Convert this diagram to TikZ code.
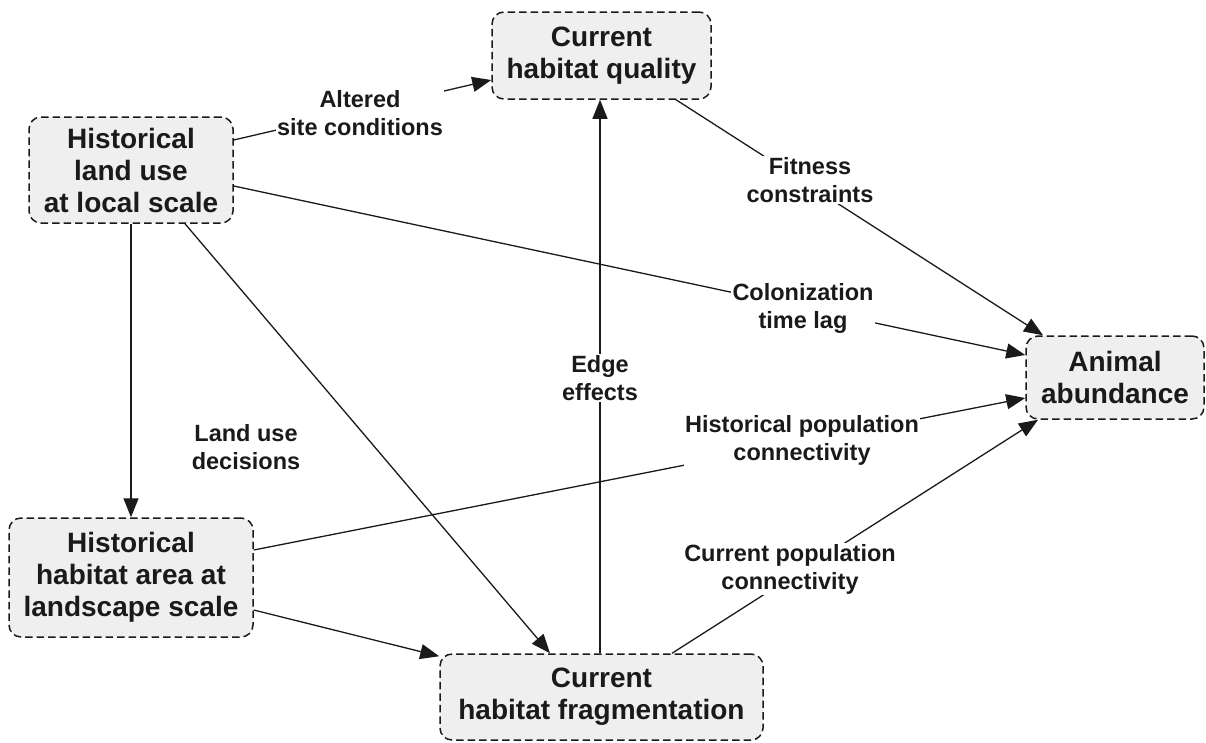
\documentclass[tikz,border=0pt]{standalone}
\usepackage{fontspec}
\setmainfont{Liberation Sans}
\usetikzlibrary{arrows.meta}
\definecolor{boxgray}{HTML}{EEEFEE}
\definecolor{ink}{HTML}{1A1A1A}
\begin{document}
\begin{tikzpicture}[x=1pt,y=-1pt,
  box/.style={draw=ink, line width=1.5pt, dash pattern=on 7.5pt off 4pt, rounded corners=12pt, fill=boxgray, align=center, text=ink, font=\fontsize{28}{32}\selectfont\bfseries, inner sep=0pt},
  lbl/.style={fill=white, align=center, text=ink, font=\fontsize{23.5}{28}\selectfont\bfseries, inner sep=1.5pt},
  conn/.style={draw=ink, line width=1.3pt, -{Triangle[length=19pt,width=15pt]}}]
\useasboundingbox (0,0) rectangle (1206,742);
% boxes
\node[box, minimum width=219pt, minimum height=87pt] (hq) at (601.5,55.5) {Current\\habitat quality};
\node[box, minimum width=204pt, minimum height=106pt] (hl) at (131,170) {Historical\\land use\\at local scale};
\node[box, minimum width=178pt, minimum height=83pt] (aa) at (1115,377.5) {Animal\\abundance};
\node[box, minimum width=244pt, minimum height=119pt] (ha) at (131,577.5) {Historical\\habitat area at\\landscape scale};
\node[box, minimum width=323pt, minimum height=86pt] (cf) at (601.5,697) {Current\\habitat fragmentation};
% connectors
\draw[conn] ([yshift=30pt]hl.east) -- ([yshift=-24.5pt]hq.west);
\draw[conn] ([yshift=-16pt]hl.east) -- ([yshift=22.5pt]aa.west);
\draw[conn] (hl.south) -- (ha.north);
\draw[conn] ([xshift=54pt]hl.south) -- ([xshift=-51.5pt]cf.north);
\draw[conn] ([yshift=-32.5pt]ha.east) -- ([yshift=-3pt]cf.north west);
\draw[conn] ([yshift=27.5pt]ha.east) -- ([yshift=-20.5pt]aa.west);
\draw[conn] ([xshift=-1.5pt]cf.north) -- ([xshift=-1.5pt]hq.south);
\draw[conn] ([xshift=70.5pt]cf.north) -- ([xshift=-77pt]aa.south);
\draw[conn] ([xshift=74.5pt]hq.south) -- ([xshift=-72pt]aa.north);
% labels
\node[lbl] (l1) at (360,113) {Altered\\site conditions};
\node[lbl] (l2) at (810,180) {Fitness\\constraints};
\node[lbl] (l3) at (803,308) {Colonization\\time lag};
\node[lbl] (l4) at (600,378) {Edge\\effects};
\node[lbl] (l5) at (246,447) {Land use\\decisions};
\node[lbl] (l6) at (802,440) {Historical population\\connectivity};
\node[lbl] (l7) at (790,569) {Current population\\connectivity};
\end{tikzpicture}
\end{document}
